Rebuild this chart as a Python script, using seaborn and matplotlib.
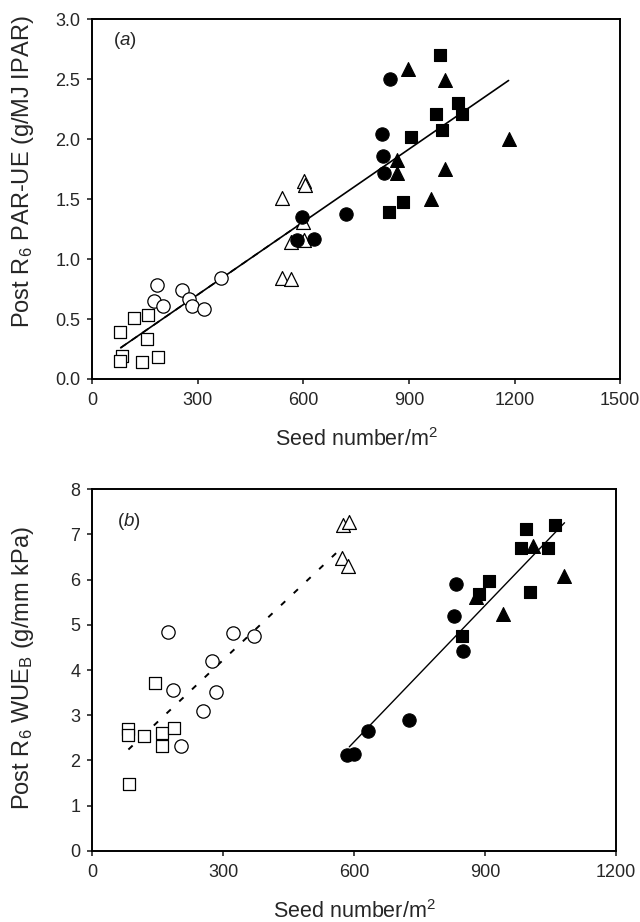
import numpy as np
import pandas as pd
import matplotlib
matplotlib.use('Agg')
import matplotlib.pyplot as plt
import seaborn as sns

# =========================
# Data
# =========================

# (a) PAR-UE vs seed number
a_sq_open_x = [79, 84, 79, 120, 160, 157, 142, 186]
a_sq_open_y = [0.39, 0.19, 0.15, 0.51, 0.53, 0.33, 0.14, 0.18]
a_ci_open_x = [184, 175, 200, 255, 274, 283, 319, 366]
a_ci_open_y = [0.78, 0.65, 0.61, 0.74, 0.67, 0.61, 0.58, 0.84]
a_tr_open_x = [540, 601, 604, 600, 564, 603, 540, 566]
a_tr_open_y = [1.51, 1.65, 1.62, 1.31, 1.14, 1.16, 0.84, 0.83]
a_ci_fill_x = [597, 581, 630, 720, 845, 823, 826, 829]
a_ci_fill_y = [1.35, 1.16, 1.17, 1.38, 2.50, 2.04, 1.86, 1.72]
a_sq_fill_x = [989, 1038, 978, 1052, 995, 905, 882, 843]
a_sq_fill_y = [2.70, 2.30, 2.21, 2.21, 2.08, 2.02, 1.48, 1.39]
a_tr_fill_x = [896, 1003, 1183, 867, 867, 1003, 963]
a_tr_fill_y = [2.59, 2.49, 2.00, 1.83, 1.72, 1.75, 1.50]

a_fit_x = [81, 1183]
a_fit_y = [0.26, 2.49]
a_fit_open_x = [81, 600]
a_fit_open_y = [0.26, 1.31]

# (b) WUE_B vs seed number
b_sq_open_x = [81, 81, 84, 144, 119, 159, 161, 188]
b_sq_open_y = [2.69, 2.57, 1.48, 3.72, 2.54, 2.60, 2.32, 2.72]
b_ci_open_x = [173, 186, 203, 254, 283, 274, 323, 370]
b_ci_open_y = [4.85, 3.55, 2.32, 3.09, 3.52, 4.21, 4.82, 4.76]
b_tr_open_x = [575, 589, 573, 586]
b_tr_open_y = [7.21, 7.28, 6.49, 6.30]
b_ci_fill_x = [583, 600, 632, 725, 834, 829, 849]
b_ci_fill_y = [2.12, 2.15, 2.65, 2.89, 5.90, 5.20, 4.42]
b_tr_fill_x = [1010, 1081, 941, 880]
b_tr_fill_y = [6.74, 6.08, 5.25, 5.62]
b_sq_fill_x = [993, 1060, 983, 1043, 909, 885, 1003, 847]
b_sq_fill_y = [7.12, 7.20, 6.71, 6.71, 5.97, 5.68, 5.73, 4.76]

b_fit_x = [589, 1082]
b_fit_y = [2.30, 7.26]
b_fit_open_x = [83, 570]
b_fit_open_y = [2.24, 6.69]

a_xticks = [0, 300, 600, 900, 1200, 1500]
a_yticks = [0.0, 0.5, 1.0, 1.5, 2.0, 2.5, 3.0]
b_xticks = [0, 300, 600, 900, 1200]
b_yticks = [0, 1, 2, 3, 4, 5, 6, 7, 8]

# =========================
# Style
# =========================
sns.set_theme(style='ticks')
plt.rcParams['font.family'] = ['Liberation Sans', 'DejaVu Sans']
plt.rcParams['mathtext.fontset'] = 'custom'
plt.rcParams['mathtext.rm'] = 'Liberation Sans'
plt.rcParams['mathtext.it'] = 'Liberation Sans:italic'
plt.rcParams['axes.linewidth'] = 1.4
plt.rcParams['xtick.major.width'] = 1.2
plt.rcParams['ytick.major.width'] = 1.2
plt.rcParams['xtick.major.size'] = 3.6
plt.rcParams['ytick.major.size'] = 3.6

fig = plt.figure(figsize=(6.4, 9.22), dpi=100)
ax_a = fig.add_axes([0.144, 0.589, 0.825, 0.390])
ax_b = fig.add_axes([0.144, 0.0773, 0.8186, 0.392])

S_CI = 92
S_SQ = 64
S_TR = 100

XLAB_FS = 15.5
YLAB_FS = 17


def draw_points(ax, x, y, marker, filled, s):
    if filled:
        sns.scatterplot(x=x, y=y, ax=ax, marker=marker, color='black',
                        edgecolor='black', s=s, linewidth=0.8, zorder=3)
    else:
        sns.scatterplot(x=x, y=y, ax=ax, marker=marker, facecolor='white',
                        edgecolor='black', s=s, linewidth=0.9, zorder=3)


# ---- panel (a) ----
sns.lineplot(x=a_fit_x, y=a_fit_y, ax=ax_a, color='black', lw=1.2, zorder=2)
sns.lineplot(x=a_fit_open_x, y=a_fit_open_y, ax=ax_a, color='black', lw=1.2,
             linestyle=(0, (4, 4)), zorder=2)
draw_points(ax_a, a_sq_open_x, a_sq_open_y, 's', False, S_SQ)
draw_points(ax_a, a_ci_open_x, a_ci_open_y, 'o', False, S_CI)
draw_points(ax_a, a_tr_open_x, a_tr_open_y, '^', False, S_TR)
draw_points(ax_a, a_ci_fill_x, a_ci_fill_y, 'o', True, S_CI)
draw_points(ax_a, a_tr_fill_x, a_tr_fill_y, '^', True, S_TR)
draw_points(ax_a, a_sq_fill_x, a_sq_fill_y, 's', True, S_SQ)

ax_a.set_xlim(0, 1500)
ax_a.set_ylim(0, 3.0)
ax_a.set_xticks(a_xticks)
ax_a.set_yticks(a_yticks)
ax_a.set_yticklabels([f'{v:.1f}' for v in a_yticks])
ax_a.set_xlabel(r'Seed number/m$^\mathregular{2}$', fontsize=XLAB_FS, va='center')
ax_a.set_ylabel(r'Post R$_\mathregular{6}$ PAR-UE (g/MJ IPAR)', fontsize=YLAB_FS, va='center')
ax_a.xaxis.set_label_coords(0.5, -0.169)
ax_a.yaxis.set_label_coords(-0.131, 0.575)
ax_a.text(0.04, 0.94, r'($\it{a}$)', transform=ax_a.transAxes,
          fontsize=13.5, va='center', ha='left')

# ---- panel (b) ----
sns.lineplot(x=b_fit_x, y=b_fit_y, ax=ax_b, color='black', lw=1.0, zorder=2)
sns.lineplot(x=b_fit_open_x, y=b_fit_open_y, ax=ax_b, color='black', lw=1.4,
             linestyle=(0, (3, 6)), zorder=2)
draw_points(ax_b, b_sq_open_x, b_sq_open_y, 's', False, S_SQ)
draw_points(ax_b, b_ci_open_x, b_ci_open_y, 'o', False, S_CI)
draw_points(ax_b, b_tr_open_x, b_tr_open_y, '^', False, S_TR)
draw_points(ax_b, b_ci_fill_x, b_ci_fill_y, 'o', True, S_CI)
draw_points(ax_b, b_tr_fill_x, b_tr_fill_y, '^', True, S_TR)
draw_points(ax_b, b_sq_fill_x, b_sq_fill_y, 's', True, S_SQ)

ax_b.set_xlim(0, 1200)
ax_b.set_ylim(0, 8)
ax_b.set_xticks(b_xticks)
ax_b.set_yticks(b_yticks)
ax_b.set_xlabel(r'Seed number/m$^\mathregular{2}$', fontsize=XLAB_FS, va='center')
ax_b.set_ylabel(r'Post R$_\mathregular{6}$ WUE$_\mathregular{B}$ (g/mm kPa)',
                fontsize=YLAB_FS, va='center')
ax_b.xaxis.set_label_coords(0.5, -0.169)
ax_b.yaxis.set_label_coords(-0.132, 0.505)
ax_b.text(0.047, 0.91, r'($\it{b}$)', transform=ax_b.transAxes,
          fontsize=13.5, va='center', ha='left')

for ax in (ax_a, ax_b):
    ax.tick_params(axis='both', labelsize=13, direction='out',
                   top=False, right=False)
    ax.tick_params(axis='x', pad=6)
    ax.tick_params(axis='y', pad=5)
    for sp in ax.spines.values():
        sp.set_visible(True)
        sp.set_color('black')

plt.savefig('out.png', dpi=100)
